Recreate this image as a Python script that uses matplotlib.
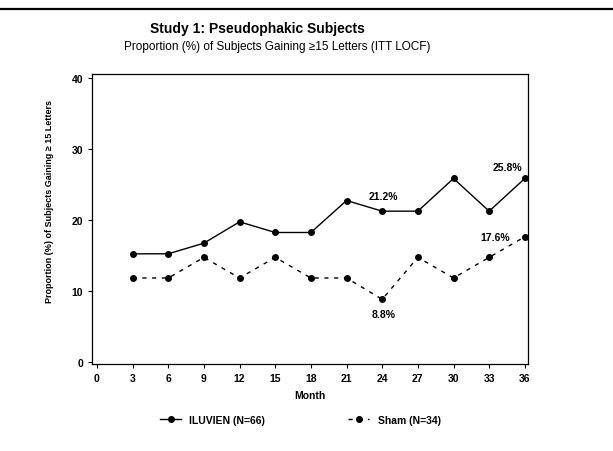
import matplotlib.pyplot as plt
import numpy as np
from matplotlib.lines import Line2D

plt.rcParams['font.family'] = ['Liberation Sans', 'DejaVu Sans']

months = [3, 6, 9, 12, 15, 18, 21, 24, 27, 30, 33, 36]
iluvien = [15.2, 15.2, 16.7, 19.7, 18.2, 18.2, 22.7, 21.2, 21.2, 25.8, 21.2, 25.8]
sham = [11.8, 11.8, 14.7, 11.8, 14.7, 11.8, 11.8, 8.8, 14.7, 11.8, 14.7, 17.6]
xticks = [0, 3, 6, 9, 12, 15, 18, 21, 24, 27, 30, 33, 36]
yticks = [0, 10, 20, 30, 40]

fig = plt.figure(figsize=(6.13, 4.52), dpi=100)
ax = fig.add_axes([0.150, 0.1925, 0.711, 0.6416])

ax.plot(months, iluvien, color='k', lw=1.0, marker='o', ms=4, label='ILUVIEN (N=66)')
ax.plot(months, sham, color='k', lw=1.0, ls=(0, (3, 4)), marker='o', ms=4, label='Sham (N=34)')

# value labels
ax.annotate('21.2%', (24, iluvien[7]), xytext=(1, 7), textcoords='offset points',
            ha='center', va='bottom', fontsize=7.5, fontweight='bold')
ax.annotate('25.8%', (36, iluvien[11]), xytext=(-2, 5), textcoords='offset points',
            ha='right', va='bottom', fontsize=7.5, fontweight='bold')
ax.annotate('17.6%', (36, sham[11]), xytext=(-11, 0), textcoords='offset points',
            ha='right', va='center', fontsize=7.5, fontweight='bold')
ax.annotate('8.8%', (24, sham[7]), xytext=(1, -7), textcoords='offset points',
            ha='center', va='top', fontsize=7.5, fontweight='bold')

ax.set_xlim(-0.42, 36.25)
ax.set_ylim(-0.3, 40.5)
ax.set_xticks(xticks)
ax.set_yticks(yticks)
ax.tick_params(labelsize=7.5, length=3, width=0.8)
for t in ax.get_xticklabels() + ax.get_yticklabels():
    t.set_fontweight('bold')
for s in ax.spines.values():
    s.set_linewidth(0.9)

ax.set_xlabel('Month', fontsize=7.5, fontweight='bold', labelpad=5)
ax.set_ylabel('Proportion (%) of Subjects Gaining \u2265 15 Letters', fontsize=6.5,
              fontweight='bold')
ax.yaxis.set_label_coords(-0.088, 0.565)

fig.text(0.42, 0.935, 'Study 1: Pseudophakic Subjects', ha='center', va='center',
         fontsize=10, fontweight='bold')
fig.text(0.453, 0.895, 'Proportion (%) of Subjects Gaining \u226515 Letters (ITT LOCF)',
         ha='center', va='center', fontsize=8.5)

fig.add_artist(Line2D([0, 1], [0.978, 0.978], color='k', lw=1.6, transform=fig.transFigure))

fig.legend(loc='center', bbox_to_anchor=(0.49, 0.069), ncol=2, frameon=False,
           handlelength=2, columnspacing=8, prop={'weight': 'bold', 'size': 7.5})

fig.savefig('out.png', dpi=100)
